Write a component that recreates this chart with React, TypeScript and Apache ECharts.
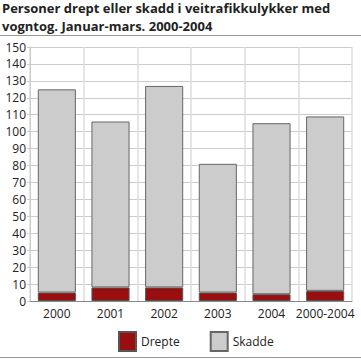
import React, { useEffect, useRef } from "react";
import * as echarts from "echarts";

const categories = ["2000", "2001", "2002", "2003", "2004", "2000-2004"];
const drepte = [5, 8, 8, 5, 4, 6];
const skadde = [120, 98, 119, 76, 101, 103];
const titleLines = ["Personer drept eller skadd i veitrafikkulykker med", "vogntog. Januar-mars. 2000-2004"];

const FONT = "'Open Sans', 'DejaVu Sans', sans-serif";

export default function App() {
  const ref = useRef<HTMLDivElement>(null);
  useEffect(() => {
    if (!ref.current) return;
    const chart = echarts.init(ref.current, null, { renderer: "svg" });
    chart.setOption({
      animation: false,
      backgroundColor: "#ffffff",
      textStyle: { fontFamily: FONT },
      graphic: [
        {
          type: "text",
          x: 2,
          y: 1,
          style: { text: titleLines[0], font: `bold 13px ${FONT}`, fill: "#222", verticalAlign: "top" },
        },
        {
          type: "text",
          x: 2,
          y: 19,
          style: { text: titleLines[1], font: `bold 13px ${FONT}`, fill: "#222", verticalAlign: "top" },
        },
        { type: "line", shape: { x1: 0, y1: 35.5, x2: 361, y2: 35.5 }, style: { stroke: "#999", lineWidth: 1 } },
        { type: "line", shape: { x1: 0, y1: 357.5, x2: 361, y2: 357.5 }, style: { stroke: "#999", lineWidth: 1 } },
      ],
      legend: {
        top: 331,
        left: 118,
        itemWidth: 17,
        itemHeight: 19,
        itemGap: 30,
        icon: "rect",
        textStyle: { fontFamily: FONT, fontSize: 12, color: "#222", padding: [0, 0, 0, 0] },
        padding: 0,
        data: ["Drepte", "Skadde"],
      },
      grid: { left: 30, right: 9, top: 47, bottom: 59, containLabel: false },
      xAxis: {
        type: "category",
        data: categories,
        axisLine: { lineStyle: { color: "#888" } },
        axisTick: { show: false },
        axisLabel: { fontFamily: FONT, fontSize: 12, color: "#222", margin: 6, interval: 0 },
        splitLine: { show: true, interval: 0, lineStyle: { color: "#dddddd", width: 1.5 } },
      },
      yAxis: {
        type: "value",
        min: 0,
        max: 150,
        interval: 10,
        axisLine: { show: true, lineStyle: { color: "#ccc" } },
        axisTick: { show: true, length: 3, lineStyle: { color: "#ccc" } },
        axisLabel: { fontFamily: FONT, fontSize: 12, color: "#222", margin: 4 },
        splitLine: { lineStyle: { color: "#cccccc", width: 1 } },
      },
      series: [
        {
          name: "Drepte",
          type: "bar",
          stack: "t",
          barWidth: "71%",
          data: drepte,
          itemStyle: { color: "#990f0f", borderColor: "#555", borderWidth: 1 },
        },
        {
          name: "Skadde",
          type: "bar",
          stack: "t",
          barWidth: "71%",
          data: skadde,
          itemStyle: { color: "#cccccc", borderColor: "#666", borderWidth: 1 },
        },
      ],
    });
    return () => chart.dispose();
  }, []);
  return <div ref={ref} style={{ width: 361, height: 360, position: "absolute", left: 0, top: 0 }} />;
}
